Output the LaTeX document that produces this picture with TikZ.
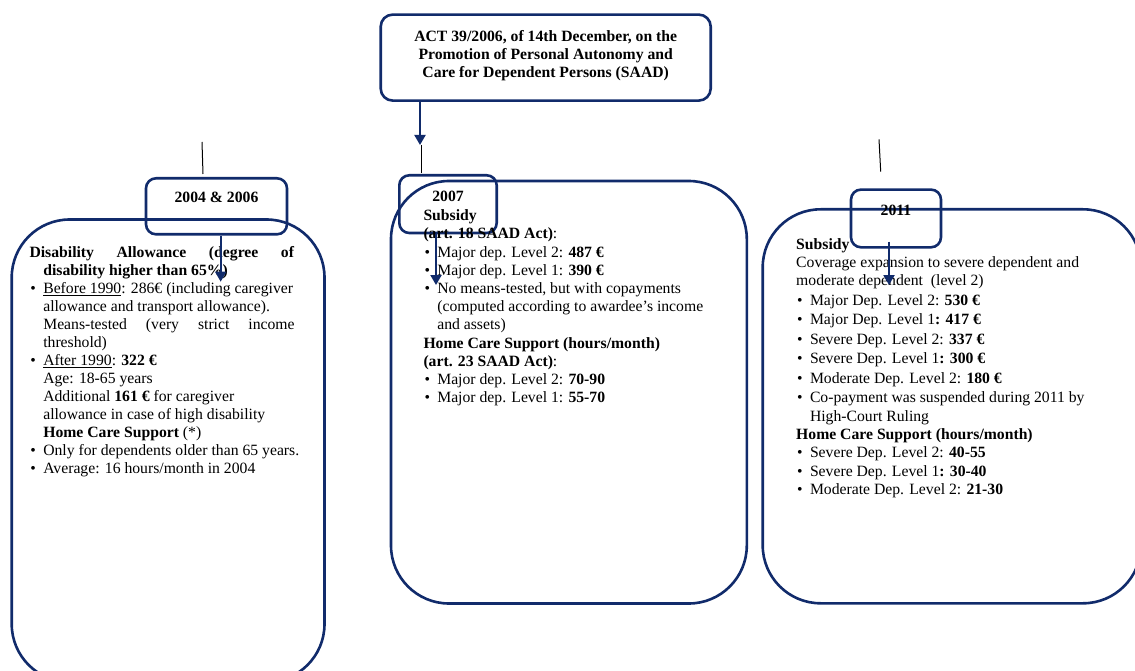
\documentclass[tikz,border=0pt]{standalone}
\usepackage{fontspec}
\setmainfont{Liberation Serif}
\usetikzlibrary{arrows.meta}
\definecolor{navy}{RGB}{17,43,107}
\tikzstyle{bigbox} = [rectangle, rounded corners=58pt, draw=navy, line width=2.6pt, inner sep=0pt]
\tikzstyle{yearbox} = [rectangle, rounded corners=10pt, draw=navy, line width=2.6pt, inner sep=0pt, align=center, font=\fontsize{15.7}{18}\selectfont\bfseries]
\tikzstyle{actbox} = [rectangle, rounded corners=12pt, draw=navy, line width=2.6pt, inner sep=0pt, font=\fontsize{15.7}{18}\selectfont\bfseries]
\tikzstyle{boxtext} = [inner sep=0pt, anchor=base west]
\tikzstyle{arrow} = [draw=navy, line width=2pt, -{Triangle[length=10pt,width=11pt]}]
\tikzstyle{stub} = [draw=black, line width=1pt]

\newcommand{\bitem}[1]{\makebox[13.8pt][l]{\hspace{1pt}\textbullet}#1}
\newcommand{\bcont}{\hspace*{13.8pt}}

\begin{document}
\begin{tikzpicture}[x=1pt, y=-1pt]
\useasboundingbox (0,0) rectangle (1135,671);

% act and the three periods
\node (act) [actbox, minimum width=330pt, text height=27.4pt, text depth=58.6pt, anchor=north] at (545.7,13.3) {\begin{tabular}[t]{@{}c@{}}
ACT 39/2006, of 14th December, on the\\
Promotion of Personal Autonomy and\\
Care for Dependent Persons (SAAD)
\end{tabular}};

\node (boxL) [bigbox, minimum width=312.8pt, minimum height=462.5pt] at (168.1,450.75) {};
\node (boxM) [bigbox, minimum width=355.8pt, minimum height=422.5pt] at (568.9,392.25) {};
\node (boxR) [bigbox, minimum width=378.3pt, minimum height=394pt] at (951.85,406.3) {};

\node (y0406) [yearbox, minimum width=141pt, minimum height=56pt, text height=24.7pt, text depth=31.3pt, anchor=north] at (216.5,177) {2004 \& 2006};
\node (y07) [yearbox, minimum width=97.4pt, minimum height=57.7pt, text height=26.7pt, text depth=31pt, anchor=north] at (448,174) {2007};
\node (y11) [yearbox, minimum width=90pt, minimum height=57.7pt, text height=25.7pt, text depth=32pt, anchor=north] at (896,188.3) {2011};

% texts
\node (txtL) [boxtext, font=\fontsize{15.7}{18}\selectfont] at (29.3,257.3) {\begin{tabular}[t]{@{}l@{}}
\makebox[264.7pt][s]{\textbf{Disability Allowance (degree of}}\\
\bcont\textbf{disability higher than 65\%)}\\
\bitem{\underline{Before 1990}: 286€ (including caregiver}\\
\bcont allowance and transport allowance).\\
\bcont\makebox[251.3pt][s]{Means-tested (very strict income}\\
\bcont threshold)\\
\bitem{\underline{After 1990}: \textbf{322 €}}\\
\bcont Age: 18-65 years\\
\bcont Additional \textbf{161 €} for caregiver\\
\bcont allowance in case of high disability\\
\bcont\textbf{Home Care Support} (*)\\
\bitem{Only for dependents older than 65 years.}\\
\bitem{Average: 16 hours/month in 2004}
\end{tabular}};

\node (txtM) [boxtext, font=\fontsize{15.7}{18.2}\selectfont] at (423.3,220.7) {\begin{tabular}[t]{@{}l@{}}
\textbf{Subsidy}\\
\textbf{(art. 18 SAAD Act)}:\\
\bitem{Major dep. Level 2: \textbf{487 €}}\\
\bitem{Major dep. Level 1: \textbf{390 €}}\\
\bitem{No means-tested, but with copayments}\\
\bcont(computed according to awardee's income\\
\bcont and assets)\\
\textbf{Home Care Support (hours/month)}\\
\textbf{(art. 23 SAAD Act)}:\\
\bitem{Major dep. Level 2: \textbf{70-90}}\\
\bitem{Major dep. Level 1: \textbf{55-70}}
\end{tabular}};

\node (txtR) [boxtext, font=\fontsize{15.7}{18.4}\selectfont] at (796,249) {\begin{tabular}[t]{@{}l@{}}
\textbf{Subsidy}\\
Coverage expansion to severe dependent and\\
moderate dependent\ \ (level 2)\\[1.1pt]
\bitem{Major Dep. Level 2: \textbf{530 €}}\\[1.1pt]
\bitem{Major Dep. Level 1\textbf{: 417 €}}\\[1.1pt]
\bitem{Severe Dep. Level 2: \textbf{337 €}}\\[1.1pt]
\bitem{Severe Dep. Level 1\textbf{: 300 €}}\\[1.1pt]
\bitem{Moderate Dep. Level 2: \textbf{180 €}}\\[1.1pt]
\bitem{Co-payment was suspended during 2011 by}\\
\bcont High-Court Ruling\\
\textbf{Home Care Support (hours/month)}\\
\bitem{Severe Dep. Level 2: \textbf{40-55}}\\
\bitem{Severe Dep. Level 1\textbf{: 30-40}}\\
\bitem{Moderate Dep. Level 2: \textbf{21-30}}
\end{tabular}};

% arrow ends and loose strokes
\coordinate (tipA) at (420,145);
\coordinate (tipL) at (220.7,281.7);
\coordinate (tipM) at (436,285);
\coordinate (tipR) at (889,285);
\coordinate (stubLa) at (202,142);
\coordinate (stubLb) at (203,174);
\coordinate (stubMa) at (421,145);
\coordinate (stubMb) at (421,172.7);
\coordinate (stubRa) at (879,139.3);
\coordinate (stubRb) at (880.7,171.7);

\draw [arrow] (act.south -| tipA) -- (tipA);
\draw [arrow] (y0406.south -| tipL) -- (tipL);
\draw [arrow] (y07.south -| tipM) -- (tipM);
\draw [arrow] ([yshift=7pt]y11.south -| tipR) -- (tipR);

\draw [stub] (stubLa) -- (stubLb);
\draw [stub] (stubMa) -- (stubMb);
\draw [stub] (stubRa) -- (stubRb);

\end{tikzpicture}
\end{document}
